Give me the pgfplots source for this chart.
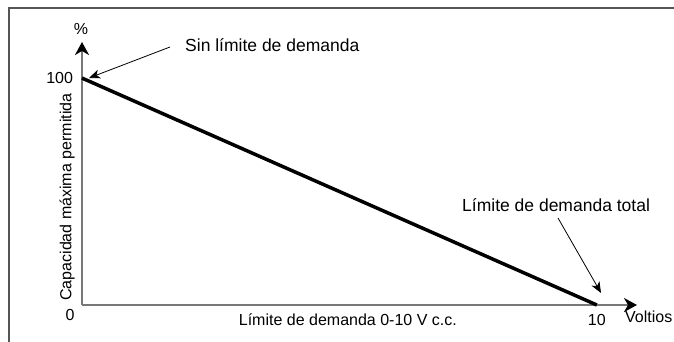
\documentclass[border=0pt]{standalone}
\usepackage{fontspec}
\setmainfont{Liberation Sans}
\usepackage{pgfplots}
\pgfplotsset{compat=1.18}
\usetikzlibrary{arrows.meta}
\definecolor{axgray}{HTML}{787878}
\definecolor{framegray}{HTML}{555555}

\newcommand{\axfont}{\fontsize{16bp}{19bp}\selectfont}
\begin{document}
\begin{tikzpicture}
\fontsize{17.5bp}{21bp}\selectfont
\useasboundingbox (0,0) rectangle (674bp,342bp);

\begin{axis}[
    at={(82bp,37bp)}, anchor=south west,
    scale only axis, width=555bp, height=263bp,
    xmin=0, xmax=10.78, ymin=0, ymax=115.9,
    axis lines=left,
    axis line style={axgray, line width=2bp, -{Stealth[black,length=13bp,width=14bp,inset=4bp]}},
    xtick={10}, ytick={100},
    major tick length=0pt,
    /pgf/number format/assume math mode=true,
    tick label style={font=\axfont},
    xticklabel style={yshift=-3bp},
    yticklabel style={xshift=-3bp},
    xlabel={Límite de demanda 0-10 V c.c.},
    ylabel={Capacidad máxima permitida},
    label style={font=\axfont},
    xlabel style={at={(axis description cs:0.479,-0.057)}, anchor=center},
    ylabel style={at={(axis description cs:-0.027,0.41)}, anchor=center},
    clip=false,
]
\addplot[black, line width=3.5bp] coordinates {(0,100) (10,0)};
\end{axis}

\begin{scope}[x=1bp, y=-1bp, yshift=342bp]
\draw[framegray, line width=2bp] (9,342) -- (9,8) -- (674,8);
\node[font=\axfont, inner sep=0pt] at (70,315) {0};
\node[font=\axfont, inner sep=0pt] at (81,29) {\%};
\node[font=\axfont, anchor=base west, inner sep=0pt] at (625,323) {Voltios};
\node[anchor=west, inner sep=0pt] at (185,45) {Sin límite de demanda};
\draw[black, line width=0.8bp, -{Stealth[length=11bp,width=9bp,inset=3bp]}] (170,47) -- (89,78);
\node[anchor=west, inner sep=0pt] at (462,205) {Límite de demanda total};
\draw[black, line width=0.8bp, -{Stealth[length=11bp,width=9bp,inset=3bp]}] (558,218) -- (601,293);
\end{scope}
\end{tikzpicture}
\end{document}
